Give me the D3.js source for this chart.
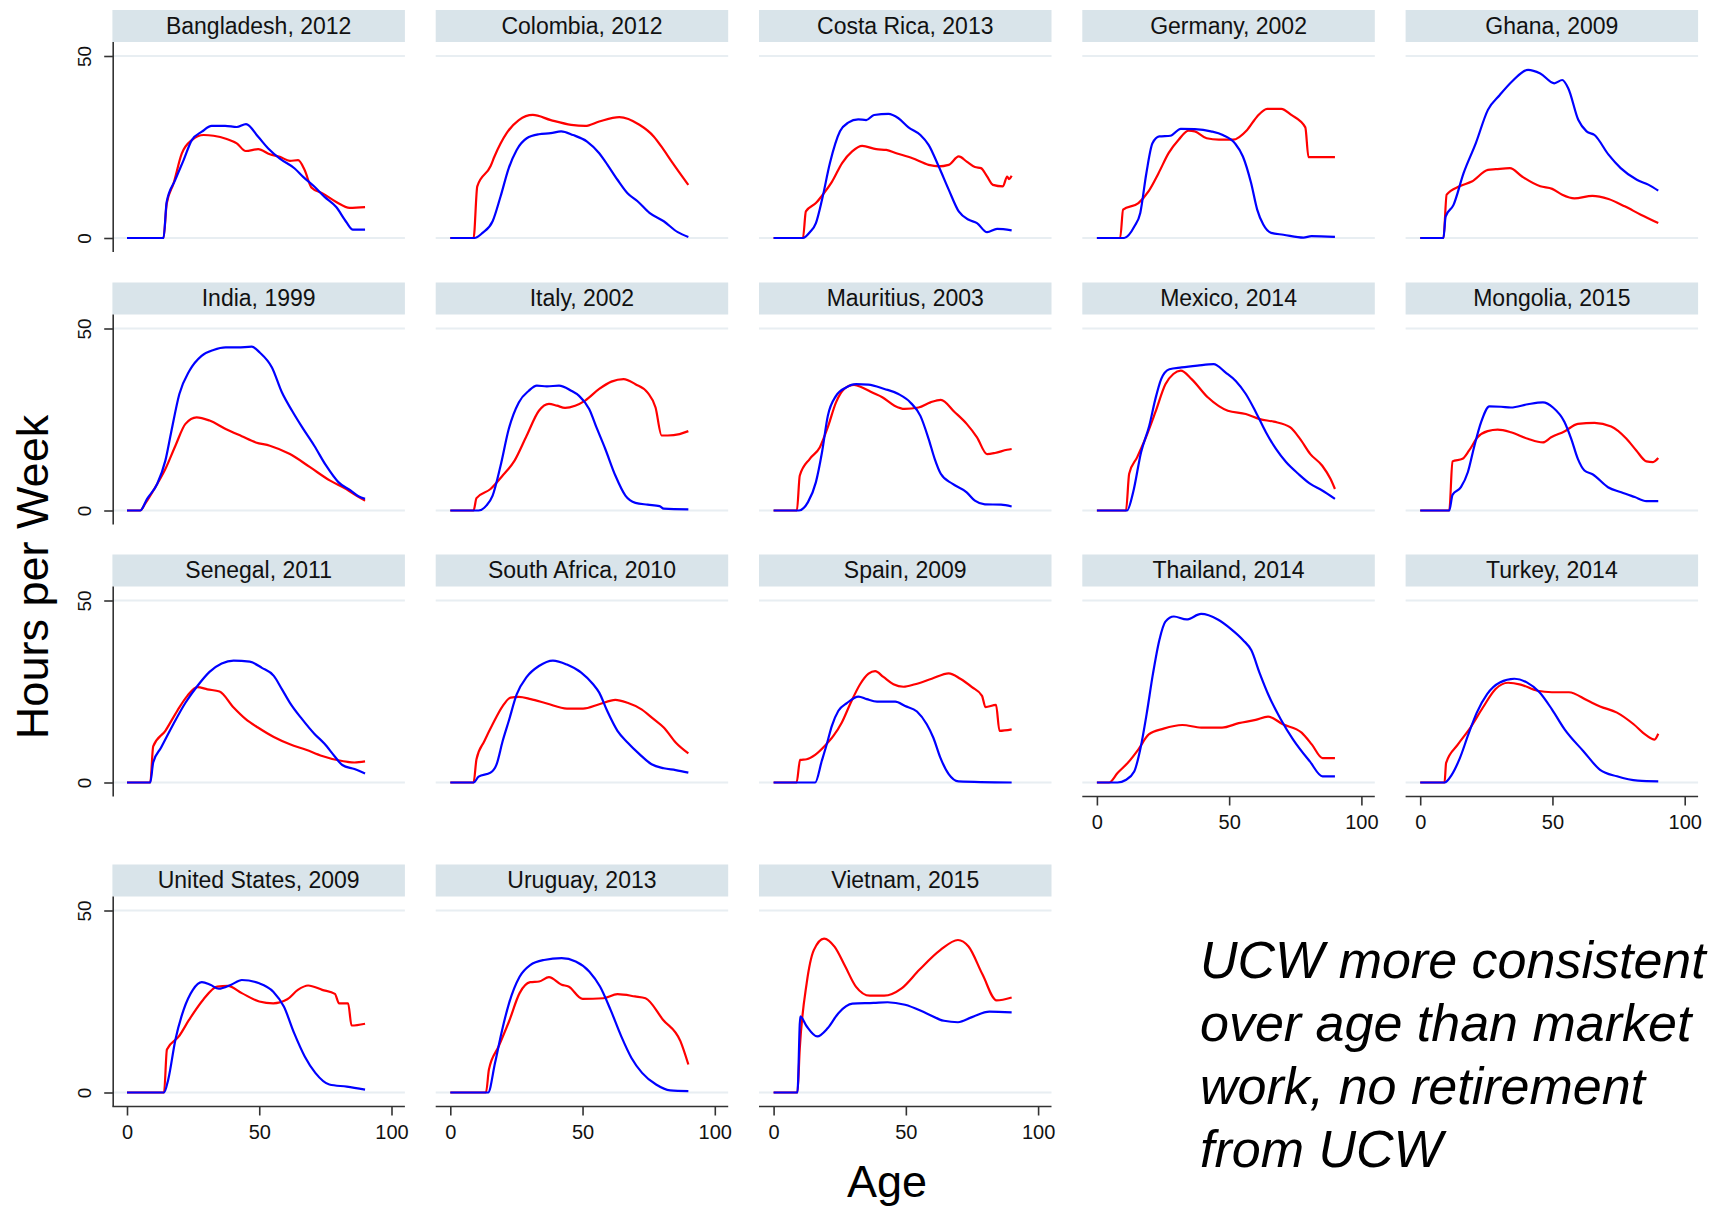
<!DOCTYPE html>
<html>
<head>
<meta charset="utf-8">
<script src="https://cdn.jsdelivr.net/npm/d3@7/dist/d3.min.js"></script>
<style>
  html, body { margin: 0; padding: 0; background: #ffffff; }
  svg { display: block; font-family: "Liberation Sans", Arial, sans-serif; }
</style>
</head>
<body>
<svg id="chart" width="1711" height="1206"></svg>
<script>
// ---------------- DATA (age, hours per week) ----------------
const panelTitles = ["Bangladesh, 2012","Colombia, 2012","Costa Rica, 2013","Germany, 2002","Ghana, 2009",
  "India, 1999","Italy, 2002","Mauritius, 2003","Mexico, 2014","Mongolia, 2015",
  "Senegal, 2011","South Africa, 2010","Spain, 2009","Thailand, 2014","Turkey, 2014",
  "United States, 2009","Uruguay, 2013","Vietnam, 2015"];
const xTickValues = [0, 50, 100];
const yTickValues = [0, 50];
const xTitle = "Age";
const yTitle = "Hours per Week";
const noteLines = ["UCW more consistent", "over age than market", "work, no retirement", "from UCW"];

// blue = market work, red = unpaid care work (UCW)
const bangladeshMarket = [[0,0],[13.8,0],[15,9.9],[18.2,15.9],[21.4,21.4],[24.5,26.9],[28.3,29.2],[32,30.8],[37.1,30.8],[41.5,30.5],[45,31.3],[49.6,27.8],[53.4,24.6],[57.8,21.8],[63.4,19.1],[66.6,16.8],[71,14],[74.7,11.3],[79.1,8.5],[82.9,4.4],[85.4,2.3],[90,2.3]];
const bangladeshUCW = [[0,0],[13.8,0],[15,9.4],[17.6,15],[20.7,23.2],[24.5,26.9],[29,28.3],[32.7,28.1],[37.7,27.2],[41.5,26],[44.9,23.9],[49.6,24.4],[54,23],[57.8,22.3],[61.6,21.2],[64.7,21.4],[67.2,18.6],[69.7,13.9],[74.1,12.2],[79.1,9.9],[84.2,8.3],[90,8.5]];
const colombiaMarket = [[0,0],[9.1,0],[12.2,1.4],[16,4.6],[19,11.4],[22.1,19.2],[25.1,24.2],[28.9,27.4],[33.5,28.5],[38,28.8],[41.9,29.3],[46.4,28.3],[51.7,26.5],[56.3,23.3],[58.6,21],[63.2,16],[67,12.3],[70.8,10.1],[75.3,6.9],[80.7,4.6],[86,1.6],[90,0.3]];
const colombiaUCW = [[0,0],[8.8,0],[10.2,14.2],[15.2,19.7],[16.7,22.4],[21.3,28.8],[25.9,32.4],[31.2,33.8],[38,32.4],[45.7,31.1],[51,30.8],[56.3,32],[63.9,33.2],[71.5,31.1],[76.9,27.9],[80.7,24.2],[83.7,21],[90,14.6]];
const costaRicaMarket = [[0,0],[11.1,0],[13.7,1.6],[16,4.1],[18.3,10.5],[21.3,20.6],[25.1,29.3],[28.2,31.7],[32,32.6],[35,32.4],[38,33.8],[43.4,34.1],[47.2,32.9],[51,30.4],[55.5,28.3],[58.6,25.6],[62.4,19.7],[66.2,13.3],[70,7.3],[73.8,5],[76.9,4.1],[80.7,1.6],[84.5,2.5],[90,2.1]];
const costaRicaUCW = [[0,0],[11.1,0],[12.2,7.3],[16,9.6],[19,12.3],[22.1,15.5],[25.9,20.6],[29.7,23.8],[33.5,25.3],[38.8,24.4],[42.6,24.2],[46.4,23.3],[52.5,21.9],[58.6,20.1],[62.4,19.7],[66.2,20.1],[70,22.4],[73,21],[76.1,19.5],[78.4,19.2],[80.7,16.9],[82.9,14.6],[86.7,14.2],[88.3,16.9],[89,16.2],[90,17.1]];
const germanyMarket = [[0,0],[10.3,0],[14.2,3.2],[16.4,6.9],[18.7,17.8],[21,26],[23.6,27.9],[27.8,28.1],[31.7,30],[37,29.9],[43.1,29.3],[47.6,28.3],[52.2,26],[55.2,22.4],[58.3,15.1],[60.6,7.8],[62.9,3.7],[65.9,1.4],[70.5,0.9],[78.1,0.1],[81.1,0.5],[90,0.3]];
const germanyUCW = [[0,0],[8.8,0],[9.9,7.8],[15.7,9.6],[19.5,12.8],[23.3,17.8],[27.1,23.3],[30.9,27],[34.7,29.5],[37,29.3],[41.5,27.4],[46.1,27],[51.4,27],[56.8,29.7],[60.6,33.4],[64.4,35.5],[69.7,35.5],[73.5,33.8],[78.8,30.4],[80,22.2],[90,22.2]];
const ghanaMarket = [[0,0],[8.8,0],[9.6,5.9],[12.6,9.1],[16.4,17.8],[21,26],[25.6,35.2],[30.1,39.3],[34.7,43],[40.8,46.2],[45.4,45.2],[50.7,42.5],[53.7,43.4],[56,41.1],[59.8,32.4],[62.9,29.3],[65.9,28.3],[71.2,22.9],[75.8,19.2],[81.9,16],[86.4,14.6],[90,13]];
const ghanaUCW = [[0,0],[8.8,0],[10,11.9],[14.9,14.2],[19.5,15.5],[25.6,18.7],[28.6,18.9],[33.9,19.2],[38.5,16.9],[45.4,14.2],[49.9,13.5],[53.7,11.9],[58.3,10.9],[65.1,11.6],[71.2,10.7],[77.3,8.7],[83.4,6.4],[90,4.1]];
const indiaMarket = [[0,0],[5,0],[7.6,3.2],[11.4,7.3],[14.5,13.7],[16.7,21.5],[19.8,32],[23.6,38.4],[28.2,42.5],[32.7,44.1],[37.3,44.8],[41.9,44.8],[47.2,45],[50.2,43.4],[54.8,39.3],[58.6,32.4],[62.4,27.4],[66.2,22.9],[70.8,17.8],[75.3,12.3],[79.9,7.8],[84.5,5.5],[87.5,3.9],[90,3.2]];
const indiaUCW = [[0,0],[5,0],[6.8,1.8],[10.7,6.4],[14.5,11.4],[18.3,17.8],[22.1,23.8],[26.3,25.6],[31.2,24.7],[37.3,22.4],[43.4,20.4],[48.7,18.7],[54,17.8],[61.6,15.5],[69.2,11.9],[76.8,8.2],[82.9,5.9],[86.7,4.1],[90,2.7]];
const italyMarket = [[0,0],[10.7,0],[13.7,1.4],[16,4.1],[19,12.3],[22.1,22.4],[25.9,29.7],[29.7,32.9],[32.7,34.3],[36.5,34.1],[41.1,34.3],[45.7,32.9],[48.7,31.5],[52.5,27.9],[55.5,22.4],[58.6,16.9],[62.4,9.6],[66.2,4.1],[70,2.1],[74.6,1.6],[79.1,1.2],[80.7,0.5],[90,0.3]];
const italyUCW = [[0,0],[8.8,0],[9.9,3.4],[15.2,5.9],[19.8,9.6],[24.3,13.7],[28.9,20.6],[33.5,27.4],[37.3,29.3],[40.3,28.8],[43.4,28.2],[47.2,28.8],[51,30.2],[56.3,33.4],[60.9,35.4],[65.5,36.1],[70,34.7],[74.6,32.4],[77.6,28.3],[79.9,20.6],[82.2,20.6],[86.7,21],[90,21.8]];
const mauritiusMarket = [[0,0],[9.6,0],[13,2.3],[16,7.8],[18.3,16],[20.5,26],[23.6,31.5],[27.4,33.8],[31.2,34.7],[35.8,34.6],[41.9,33.4],[47.2,32],[51.7,29.7],[55.5,26],[58.6,19.7],[60.9,14.2],[63.2,10.1],[67.7,7.3],[73,5],[76.1,2.7],[79.9,1.7],[86,1.6],[90,1.1]];
const mauritiusUCW = [[0,0],[8.8,0],[9.9,9.6],[13.7,14.2],[17.5,17.4],[20.5,22.9],[23.6,29.7],[26.7,33.4],[30.4,34.5],[33.5,33.8],[37.3,32.4],[41.1,31.1],[45.7,28.8],[49.5,27.9],[54.8,28.3],[59.3,29.7],[63.2,30.4],[68.5,27],[73,23.8],[76.9,20.1],[80.7,15.5],[83.7,15.8],[88.3,16.7],[90,16.9]];
const mexicoMarket = [[0,0],[11.4,0],[13.7,5],[16.7,16],[19.8,23.3],[22.1,30.6],[24.3,36.1],[27.4,38.8],[32,39.3],[38,39.8],[44.1,40.2],[48.7,37.9],[52.5,35.6],[56.3,32],[60.1,27],[63.9,21.5],[67.7,16.9],[71.5,13.3],[76.1,10.1],[80.7,7.3],[85.2,5.5],[90,3.2]];
const mexicoUCW = [[0,0],[11,0],[12.2,10.1],[15.2,14.6],[18.3,19.7],[22.1,27],[25.9,34.7],[28.9,37.5],[31.7,38.4],[35.8,36.1],[41.9,31.1],[49.5,27.4],[56.3,26.5],[61.6,25.1],[66.9,24.4],[73,22.9],[76.8,19.7],[80.7,15.5],[85.2,12.3],[88.3,8.7],[90,5.9]];
const mongoliaMarket = [[0,0],[11,0],[12.2,4.3],[15.4,6.4],[18,10.5],[20.5,17.8],[23,24.2],[26.2,28.6],[30.6,28.5],[34.3,28.3],[40.7,29.2],[46.4,29.7],[50.2,28.3],[54.5,24.4],[57.1,19.7],[59.6,14.2],[62.1,11],[65.3,9.9],[71,6.4],[76,5],[81.1,3.7],[85.5,2.6],[90,2.6]];
const mongoliaUCW = [[0,0],[11,0],[12.2,13.5],[16,14.2],[18.5,16.5],[21.7,20.1],[25.5,21.8],[29.3,22.2],[34.3,21.5],[40.7,19.7],[46.4,18.7],[49.5,20.1],[54.5,21.7],[59.6,23.8],[65.9,24.1],[72.2,23.1],[77.9,19.8],[81.7,16.5],[85.5,13.5],[88,13.3],[90,14.4]];
const senegalMarket = [[0,0],[8.8,0],[9.9,5.5],[12.9,9.6],[17.5,16],[22.1,21.9],[26.6,26.5],[31.2,30.4],[35.8,32.7],[40.3,33.5],[46.4,33.2],[51,31.5],[55.5,29.3],[58.6,25.6],[61.6,21.9],[66.2,17.4],[70.8,13.4],[74.6,10.7],[78.4,7.3],[81.4,4.8],[86,3.7],[90,2.5]];
const senegalUCW = [[0,0],[8.8,0],[9.9,9.9],[14.5,14.2],[19,19.7],[22.8,23.8],[26.6,26.2],[30.4,25.6],[35,25],[40.3,20.6],[44.9,17.4],[49.5,15.1],[55.5,12.5],[61.6,10.5],[67.7,9],[73.8,7.3],[79.9,6.1],[86,5.5],[90,5.8]];
const southAfricaMarket = [[0,0],[8.8,0],[10.7,1.6],[15.2,2.7],[17.5,5],[19.8,11.4],[22.1,16.9],[25.1,24.2],[28.9,29],[33.5,32],[38.8,33.5],[44.1,32.4],[49.5,30.2],[54,27],[56.3,24.7],[59.3,19.7],[63.2,14.2],[67,11],[71.5,7.8],[76.1,5],[80.7,3.9],[85.2,3.4],[90,2.7]];
const southAfricaUCW = [[0,0],[8.8,0],[9.9,6.4],[12.9,11.4],[16,16],[19.8,21],[22.8,23.3],[25.9,23.5],[30.4,22.9],[36.5,21.7],[44.1,20.3],[50.2,20.3],[56.3,21.5],[62.4,22.7],[67,21.9],[72.3,20.1],[76.9,17.4],[80.7,15.1],[85.2,11],[90,8]];
const spainMarket = [[0,0],[15.7,0],[18.2,5.9],[20.1,10.5],[22,15.5],[24.5,19.7],[27.7,21.8],[32.1,23.6],[35.2,22.9],[39.1,22.2],[46,22.2],[49.7,21],[54.2,19.5],[57.9,16],[60.4,12.3],[63,6.9],[66.2,2.3],[69.9,0.3],[90,0]];
const spainUCW = [[0,0],[8.7,0],[10,6.2],[12.5,6.4],[15.7,7.6],[19.4,10.1],[22.6,12.8],[25.8,16.5],[28.9,21.5],[32.7,27],[35.9,29.9],[38.4,30.6],[41.5,29],[45.3,27],[49.1,26.3],[53.5,27],[59.8,28.5],[66.2,30],[70.6,28.5],[75,26.2],[78.8,23.8],[80.1,20.7],[84.1,21.3],[85.4,14.2],[90,14.6]];
const thailandMarket = [[0,0],[7.8,0],[10.9,0.7],[14.1,3],[16.5,9.5],[18.8,18.8],[21.2,29.9],[23.6,39.1],[25.9,44.2],[29.1,45.6],[33.9,44.8],[39.4,46.3],[45.7,44.8],[50.5,42.3],[55.3,39.1],[58.4,36.3],[61.6,29.9],[64.7,24.3],[69.5,17.4],[74.2,11.8],[80.5,5.8],[85.3,1.7],[90,1.7]];
const thailandUCW = [[0,0],[4.6,0],[7.8,2.6],[11.7,5.4],[15.7,9.1],[19.6,13.2],[25.2,14.8],[32.3,15.8],[39.4,15.1],[47.3,15.1],[53.6,16.3],[60,17.2],[64.7,18.1],[70.3,16],[77.4,13.7],[81.3,10.4],[85.3,6.7],[90,6.7]];
const turkeyMarket = [[0,0],[9.2,0],[11.9,2.1],[15,6.7],[18.2,13.2],[21.4,19.2],[25.3,24.3],[30.1,27.5],[35.6,28.5],[40.3,27.5],[45.1,24.8],[49.8,20.1],[54.6,14.6],[61.7,8.6],[68,3.5],[74.4,1.7],[82.3,0.5],[90,0.3]];
const turkeyUCW = [[0,0],[9.2,0],[9.8,5.4],[14.2,10.4],[19,15.1],[23.7,20.6],[28.5,25.7],[33.2,27.4],[38,26.9],[44.3,25.2],[49.8,24.8],[56.2,24.8],[63.3,22.5],[68,20.9],[74.4,19.2],[80.7,16],[85.4,13],[88.6,11.8],[90,13.4]];
const usMarket = [[0,0],[14,0],[15.6,3.6],[18.3,14.5],[21.4,22.7],[24.9,28.2],[28.3,30.3],[31.5,29.6],[34.7,28.5],[39.4,29.6],[43.4,30.9],[50,30],[55.3,27.7],[59.3,23.6],[63.2,16.3],[67.2,9.9],[71.2,5.4],[76.5,2.2],[83.1,1.6],[90,0.8]];
const usUCW = [[0,0],[14,0],[15.1,11.8],[19.6,15.4],[23.5,20],[28.8,25.5],[34.1,29.1],[38.1,29.3],[43.4,27.3],[50,25],[55.3,24.5],[60.6,25.6],[64.6,28.2],[68.5,29.4],[73.8,28.2],[78.6,27.1],[80.2,24.5],[83.6,24.5],[84.9,18.4],[90,18.9]];
const uruguayMarket = [[0,0],[14.3,0],[16.9,8.1],[19.6,17.2],[22.2,24.5],[26.2,31.8],[30.2,35],[35.4,36.4],[42.1,36.9],[47.4,36],[52.6,33.2],[56.6,29.1],[60.6,22.7],[64.6,15.5],[68.5,9.5],[72.5,5.4],[77.8,2.2],[83.1,0.6],[90,0.4]];
const uruguayUCW = [[0,0],[13.5,0],[14.6,6.3],[18.3,12.7],[22.2,19.5],[26.2,27.3],[30.2,30.3],[33.6,30.5],[37.3,31.7],[42.1,29.6],[44.7,29.1],[50,25.7],[57.9,25.9],[63.2,27],[69.8,26.4],[73.8,25.9],[80.4,20],[87,14.1],[90,7.7]];
const vietnamMarket = [[0,0],[9,0],[10.1,20.9],[12.5,18.2],[16.5,15.4],[20.5,17.7],[24.5,21.8],[29.8,24.4],[37.8,24.6],[43.1,24.8],[49.7,24.1],[57.7,21.8],[64.4,19.7],[69.7,19.3],[75,20.7],[81.6,22.2],[90,22]];
const vietnamUCW = [[0,0],[9,0],[9.9,12.2],[12.5,30],[15.2,39.1],[19.1,42.3],[23.1,40],[27.1,34.6],[31.1,29.1],[36.4,26.6],[41.8,26.6],[48.4,28.6],[55.1,33.7],[63,39.1],[69.7,41.9],[73.7,40.1],[79,32.4],[84.3,25.3],[90,26.1]];

const marketSeries = [bangladeshMarket, colombiaMarket, costaRicaMarket, germanyMarket, ghanaMarket,
  indiaMarket, italyMarket, mauritiusMarket, mexicoMarket, mongoliaMarket,
  senegalMarket, southAfricaMarket, spainMarket, thailandMarket, turkeyMarket,
  usMarket, uruguayMarket, vietnamMarket];
const ucwSeries = [bangladeshUCW, colombiaUCW, costaRicaUCW, germanyUCW, ghanaUCW,
  indiaUCW, italyUCW, mauritiusUCW, mexicoUCW, mongoliaUCW,
  senegalUCW, southAfricaUCW, spainUCW, thailandUCW, turkeyUCW,
  usUCW, uruguayUCW, vietnamUCW];

// ---------------- LAYOUT ----------------
const svg = d3.select("#chart");
const colLeft0 = 112.4, colPitch = 323.3, panelW = 292.5;
const rowTops = [10, 282.5, 554.5, 864.5];
const stripH = 32, plotH = 210;
const nCols = 5;
const marketColor = "#0000ff", ucwColor = "#ff0000";
const gridColor = "#e8eef2", stripColor = "#d9e4ea", axisColor = "#333333";

panelTitles.forEach((title, i) => {
  const row = Math.floor(i / nCols), col = i % nCols;
  const left = colLeft0 + col * colPitch;
  const top = rowTops[row];
  const plotTop = top + stripH;
  const g = svg.append("g");

  const x = d3.scaleLinear().domain([0, 100]).range([left + 14.6, left + 279.1]);
  const y = d3.scaleLinear().domain([0, 50]).range([plotTop + 196, plotTop + 14]);

  // strip
  g.append("rect").attr("x", left).attr("y", top).attr("width", panelW).attr("height", stripH)
    .attr("fill", stripColor);
  g.append("text").attr("x", left + panelW / 2).attr("y", top + 23.5)
    .attr("text-anchor", "middle").attr("font-size", 23).attr("fill", "#111")
    .text(title);

  // gridlines
  g.selectAll("line.grid").data(yTickValues).join("line").attr("class", "grid")
    .attr("x1", left).attr("x2", left + panelW)
    .attr("y1", d => y(d)).attr("y2", d => y(d))
    .attr("stroke", gridColor).attr("stroke-width", 2);

  // lines
  const line = d3.line().x(d => x(d[0])).y(d => y(d[1])).curve(d3.curveMonotoneX);
  g.append("path").datum(ucwSeries[i]).attr("d", line)
    .attr("fill", "none").attr("stroke", ucwColor).attr("stroke-width", 2.2).attr("stroke-linejoin", "round");
  g.append("path").datum(marketSeries[i]).attr("d", line)
    .attr("fill", "none").attr("stroke", marketColor).attr("stroke-width", 2.2).attr("stroke-linejoin", "round");

  // y axis on first column
  if (col === 0) {
    g.append("line").attr("x1", left + 0.8).attr("x2", left + 0.8)
      .attr("y1", plotTop).attr("y2", plotTop + plotH)
      .attr("stroke", axisColor).attr("stroke-width", 1.6);
    const ya = g.append("g").attr("transform", `translate(${left + 0.8},0)`)
      .call(d3.axisLeft(y).tickValues(yTickValues).tickSize(9).tickSizeOuter(0));
    ya.select(".domain").remove();
    ya.selectAll(".tick line").attr("stroke", axisColor).attr("stroke-width", 1.6);
    ya.selectAll(".tick text")
      .attr("transform", "rotate(-90)").attr("x", 0).attr("y", -22).attr("dy", null)
      .attr("text-anchor", "middle").attr("font-size", 19).attr("fill", "#111")
      .attr("font-family", "Liberation Sans, Arial, sans-serif");
  }

  // x axis where no panel below
  const hasBelow = (i + nCols) < panelTitles.length;
  if (!hasBelow) {
    const axY = plotTop + plotH;
    g.append("line").attr("x1", left).attr("x2", left + panelW)
      .attr("y1", axY).attr("y2", axY)
      .attr("stroke", axisColor).attr("stroke-width", 1.6);
    const xa = g.append("g").attr("transform", `translate(0,${axY})`)
      .call(d3.axisBottom(x).tickValues(xTickValues).tickSize(9).tickSizeOuter(0));
    xa.select(".domain").remove();
    xa.selectAll(".tick line").attr("stroke", axisColor).attr("stroke-width", 1.6);
    xa.selectAll(".tick text").attr("y", 32).attr("dy", null)
      .attr("font-size", 20).attr("fill", "#111")
      .attr("font-family", "Liberation Sans, Arial, sans-serif");
  }
});

// axis titles
svg.append("text").attr("transform", "translate(48,577) rotate(-90)")
  .attr("text-anchor", "middle").attr("font-size", 45).attr("fill", "#000").text(yTitle);
svg.append("text").attr("x", 887).attr("y", 1197)
  .attr("text-anchor", "middle").attr("font-size", 45).attr("fill", "#000").text(xTitle);

// note
svg.append("g").selectAll("text").data(noteLines).join("text")
  .attr("x", 1200).attr("y", (d, k) => 978 + k * 63)
  .attr("font-size", 52).attr("font-style", "italic").attr("fill", "#000")
  .text(d => d);
</script>
</body>
</html>
